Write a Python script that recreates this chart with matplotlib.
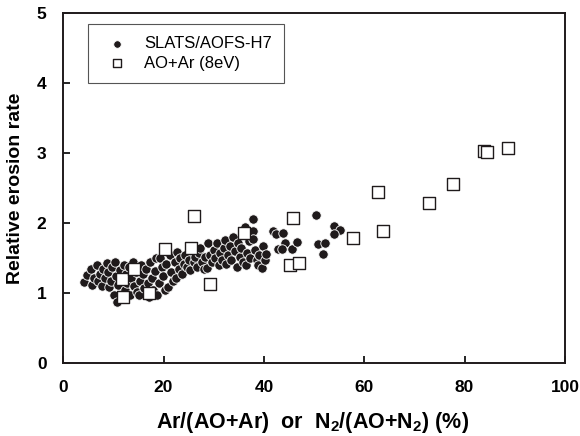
import numpy as np
import matplotlib
matplotlib.use("Agg")
import matplotlib.pyplot as plt

plt.rcParams['font.family'] = ['Liberation Sans', 'DejaVu Sans']
plt.rcParams['mathtext.fontset'] = 'custom'
plt.rcParams['mathtext.bf'] = 'Liberation Sans:bold'
plt.rcParams['mathtext.rm'] = 'Liberation Sans'
plt.rcParams['mathtext.default'] = 'bf'

# SLATS/AOFS-H7 flight data
slats_x = [4.2, 4.8, 5.5, 5.8, 6.2, 6.8, 7.0, 7.3, 7.8, 8.0, 8.4,
           8.8, 9.0, 9.2, 9.5, 9.8, 10.1, 10.3, 10.5, 10.7, 11.0, 11.3, 11.6, 12.1, 12.3, 12.5,
           12.8, 13.1, 13.4, 13.6, 14.0, 14.2, 14.5, 14.8, 15.1, 15.3, 15.6, 15.9, 16.2,
           16.5, 16.8, 17.0, 17.3, 17.6, 17.9, 18.2, 18.5, 18.7, 19.0, 19.3, 19.6, 19.9,
           20.2, 20.5, 20.9, 21.2, 21.5, 21.8, 22.2, 22.5, 22.7, 23.0, 23.3, 23.6, 24.0,
           24.3, 24.6, 25.0, 25.3, 25.6, 26.0, 26.3, 26.7, 27.0, 27.3, 27.6, 28.0, 28.3,
           28.7, 28.9, 29.2, 29.6, 30.0, 30.3, 30.6, 31.0, 31.2, 31.6, 32.0, 32.2, 32.5,
           32.8, 33.2, 33.5, 33.8, 34.2, 34.6, 34.9, 35.2, 35.5, 35.8, 36.2, 36.4, 36.6,
           37.0, 37.3, 37.8, 37.8, 37.8, 38.2, 38.6, 38.9, 39.0, 39.6, 39.8, 40.2, 40.4,
           41.8, 42.4, 43.8, 44.2, 42.8, 43.6, 45.6, 46.6, 50.3, 50.7, 52.1, 51.7, 53.9, 55.1, 53.9]
slats_y = [1.16, 1.26, 1.34, 1.12, 1.22, 1.40, 1.18, 1.28, 1.10, 1.35, 1.22,
           1.43, 1.30, 1.09, 1.18, 1.38, 0.97, 1.44, 1.25, 0.87, 1.12, 1.33, 1.20, 1.40, 1.05, 1.28,
           1.15, 1.38, 0.98, 1.22, 1.45, 1.10, 1.30, 1.02, 0.97, 1.18, 1.40, 1.27, 1.08,
           1.35, 1.15, 0.95, 1.44, 1.22, 1.05, 1.32, 1.50, 0.97, 1.15, 1.50, 1.38, 1.25,
           1.05, 1.42, 1.09, 1.55, 1.30, 1.18, 1.45, 1.21, 1.59, 1.35, 1.50, 1.28, 1.42,
           1.55, 1.38, 1.48, 1.33, 1.60, 1.45, 1.52, 1.38, 1.58, 1.64, 1.45, 1.35, 1.52,
           1.36, 1.71, 1.55, 1.45, 1.62, 1.50, 1.71, 1.40, 1.58, 1.48, 1.65, 1.76, 1.42,
           1.55, 1.68, 1.48, 1.80, 1.60, 1.37, 1.72, 1.52, 1.65, 1.45, 1.94, 1.40, 1.58,
           1.75, 1.50, 2.06, 1.89, 1.77, 1.62, 1.47, 1.40, 1.55, 1.36, 1.67, 1.47, 1.56,
           1.89, 1.85, 1.86, 1.71, 1.63, 1.63, 1.63, 1.73, 2.11, 1.70, 1.71, 1.56, 1.96, 1.90, 1.84]

# AO+Ar (8eV) ground test data
aoar_x = [11.7, 12.0, 14.1, 17.0, 20.3, 25.5, 26.1, 29.2, 36.0, 45.2, 47.0, 45.8,
          57.7, 63.7, 62.7, 73.0, 77.6, 83.8, 84.4, 88.6]
aoar_y = [1.20, 0.94, 1.34, 1.00, 1.63, 1.64, 2.10, 1.13, 1.86, 1.40, 1.43, 2.07,
          1.79, 1.89, 2.44, 2.29, 2.56, 3.03, 3.01, 3.07]

dark = '#1f1a1b'

fig = plt.figure(figsize=(5.8, 4.36), dpi=100)
ax = fig.add_axes([0.109, 0.167, 0.865, 0.803])

ax.scatter(slats_x, slats_y, s=46, c=dark, edgecolors='white', linewidths=0.6,
           label='SLATS/AOFS-H7', zorder=2)
ax.scatter(aoar_x, aoar_y, s=64, marker='s', facecolors='white', edgecolors=dark,
           linewidths=1.0, label='AO+Ar (8eV)', zorder=3)

ax.set_xlim(0, 100)
ax.set_ylim(0, 5)
ax.set_xticks([0, 20, 40, 60, 80, 100])
ax.set_yticks([0, 1, 2, 3, 4, 5])
ax.tick_params(direction='in', length=5, width=1.2, labelsize=12.5, pad=12)
for lab in ax.get_xticklabels() + ax.get_yticklabels():
    lab.set_fontweight('bold')
for s in ax.spines.values():
    s.set_linewidth(1.4)
    s.set_color(dark)

ax.set_xlabel('Ar/(AO+Ar)  or  N$_2$/(AO+N$_2$) (%)', fontsize=15.5, fontweight='bold')
ax.set_ylabel('Relative erosion rate', fontsize=14, fontweight='bold')
ax.xaxis.set_label_coords(0.497, -0.135)
ax.yaxis.set_label_coords(-0.078, 0.5)

leg = ax.legend(loc='upper left', bbox_to_anchor=(0.05, 0.969), borderaxespad=0,
                fontsize=12, markerscale=0.8, fancybox=False, framealpha=1,
                edgecolor='#555555', handletextpad=0.6, borderpad=0.75,
                labelspacing=0.25, handlelength=2.0)
leg.get_frame().set_linewidth(0.8)

fig.savefig('out.png', dpi=100)
